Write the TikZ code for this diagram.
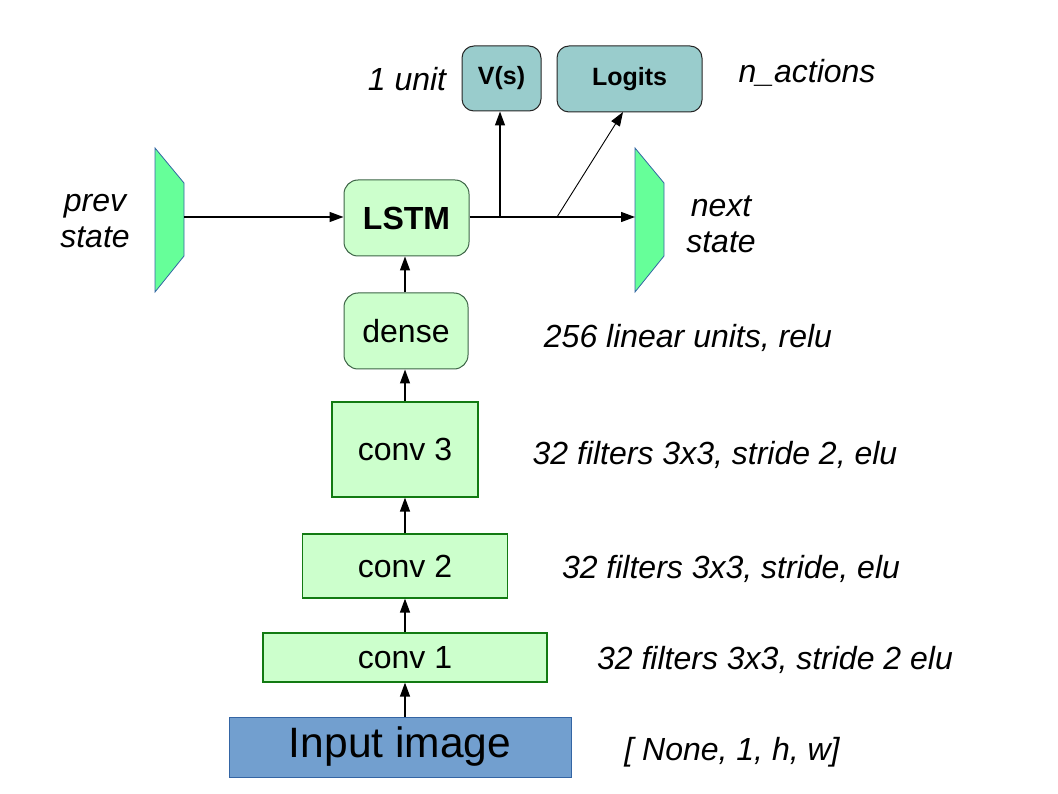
\documentclass[tikz,border=0pt]{standalone}
\usepackage{fontspec}
\setmainfont{Liberation Sans}
\usetikzlibrary{arrows.meta}
\definecolor{boxgreen}{HTML}{CCFFCC}
\definecolor{boxgreenline}{HTML}{127A12}
\definecolor{roundline}{HTML}{3C6446}
\definecolor{teal}{HTML}{99CCCC}
\definecolor{inblue}{HTML}{729FCF}
\definecolor{inblueline}{HTML}{3465A4}
\definecolor{stategreen}{HTML}{66FF99}
\tikzset{
  layer/.style={draw=boxgreenline, fill=boxgreen, line width=1.2pt, inner sep=0pt, font=\fontsize{32}{36}\selectfont},
  rlayer/.style={draw=roundline, fill=boxgreen, line width=1pt, rounded corners=14pt, inner sep=0pt, font=\fontsize{32}{36}\selectfont},
  head/.style={draw=black!85, fill=teal, line width=1pt, rounded corners=12pt, inner sep=0pt, font=\fontsize{25}{29}\selectfont\bfseries},
  lbl/.style={inner sep=0pt, font=\fontsize{32}{36}\selectfont\itshape, align=center},
  arr/.style={line width=1.3pt, -{Triangle[length=14pt,width=10pt]}},
  thinarr/.style={line width=0.9pt, -{Triangle[length=14pt,width=10pt]}},
  statebox/.style={fill=stategreen, draw=inblueline, line width=0.8pt},
}
\begin{document}
\begin{tikzpicture}[x=1pt,y=-1pt]
\useasboundingbox (0,0) rectangle (1058,794);

\node[draw=inblueline, fill=inblue, line width=1pt, minimum width=342pt, minimum height=60pt, inner sep=0pt, font=\fontsize{42.5}{48}\selectfont] (input) at (400,747) {\raisebox{-3pt}{Input image}};
\node[layer, minimum width=284pt, minimum height=49pt] (c1) at (405,657.5) {\raisebox{-1.5pt}{conv 1}};
\node[layer, minimum width=205pt, minimum height=64pt] (c2) at (405,566) {conv 2};
\node[layer, minimum width=146pt, minimum height=95pt] (c3) at (405,449.5) {\raisebox{-2pt}{conv 3}};
\node[rlayer, minimum width=124pt, minimum height=76pt] (dense) at (406,331) {\raisebox{-1.5pt}{dense}};
\node[rlayer, minimum width=125pt, minimum height=76pt, font=\fontsize{32}{36}\selectfont\bfseries] (lstm) at (406.5,218) {\raisebox{-1.5pt}{LSTM}};
\node[head, minimum width=79pt, minimum height=65pt] (v) at (501.5,78.5) {V(s)};
\node[head, minimum width=145pt, minimum height=66pt] (logits) at (629.5,79) {\raisebox{-1.5pt}{Logits}};

% state trapezoids
\draw[statebox] (155,148) -- (184,183) -- (184,256) -- (155,292) -- cycle;
\draw[statebox] (635,148) -- (664,183) -- (664,256) -- (635,292) -- cycle;
\coordinate (prev) at (184,217);
\coordinate (next) at (635,217);
\coordinate (vsplit) at (500,217);
\coordinate (lsplit) at (557,217);
\coordinate (ltarget) at (623,112);

% vertical arrows
\draw[arr] (c1.south |- input.north) -- (c1.south);
\draw[arr] (c1.north) -- (c2.south);
\draw[arr] (c2.north) -- (c3.south);
\draw[arr] (c3.north) -- (dense.south -| c3.north);
\draw[arr] (dense.north -| c3.north) -- (lstm.south -| c3.north);

% LSTM connections
\draw[arr] (prev) -- (prev -| lstm.west);
\draw[arr] (lstm.east |- next) -- (next);
\draw[arr] (vsplit) -- (vsplit |- v.south);
\draw[thinarr] (lsplit) -- (ltarget);

% labels
\node[lbl] (l1unit) at (407,79) {1 unit};
\node[lbl] (lnact) at (807,73) {n\_actions};
\node[lbl] (lprev) at (95,221) {prev\\state};
\node[lbl] (lnext) at (721,224) {next\\state};
\node[lbl] (ldense) at (688,338) {256 linear units, relu};
\node[lbl] (lc3) at (715,455) {32 filters 3x3, stride 2, elu};
\node[lbl] (lc2) at (731,569) {32 filters 3x3, stride, elu};
\node[lbl] (lc1) at (775,660) {32 filters 3x3, stride 2 elu};
\node[lbl] (lin) at (732,752) {[ None, 1, h, w]};
\end{tikzpicture}
\end{document}
